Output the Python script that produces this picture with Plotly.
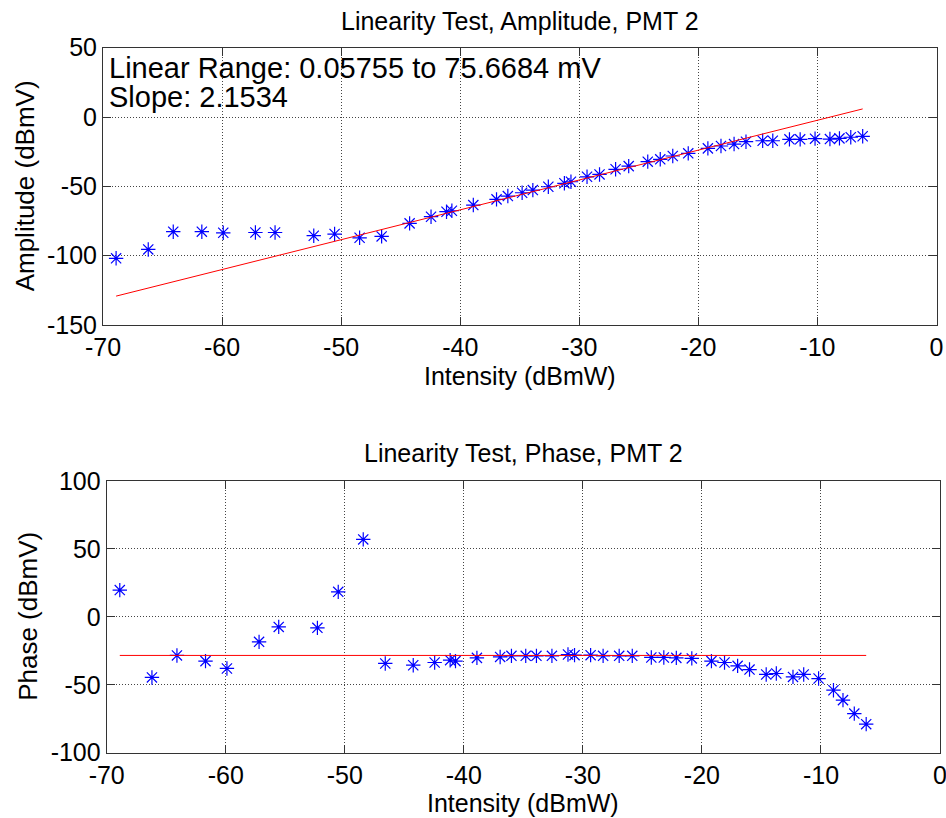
import plotly.graph_objects as go
import numpy as np

W, H = 946, 818

intensity = [-68.9, -66.2, -64.1, -61.7, -59.9, -57.2, -55.55, -52.3, -50.55, -48.45,
             -46.6, -44.25, -42.45, -41.15, -40.7, -38.9, -36.95, -36.0, -34.8, -33.9,
             -32.6, -31.25, -30.7, -29.35, -28.3, -26.95, -25.85, -24.25, -23.2, -22.15,
             -20.85, -19.2, -18.1, -17.0, -16.0, -14.6, -13.75, -12.35, -11.45, -10.2,
             -8.95, -8.15, -7.2, -6.2]

amplitude = [-101.9, -95.5, -82.7, -82.7, -83.5, -83.3, -83.3, -85.6, -84.4, -87.1,
             -86.1, -76.7, -71.9, -68.3, -67.6, -63.5, -59.4, -57.0, -54.6, -52.7,
             -50.3, -47.8, -46.7, -43.1, -41.4, -37.7, -35.4, -32.2, -30.5, -28.1,
             -26.2, -22.6, -20.9, -19.5, -17.8, -17.1, -17.1, -16.1, -16.1, -15.6,
             -15.9, -15.4, -14.6, -13.9]

phase = [19.7, -44.6, -28.4, -32.6, -38.0, -18.4, -7.4, -8.1, 18.4, 57.0,
         -34.3, -35.6, -33.6, -31.9, -32.6, -30.2, -29.5, -28.7, -28.7, -28.7,
         -28.7, -27.7, -28.2, -28.2, -28.7, -28.7, -28.7, -29.9, -29.9, -30.2,
         -30.6, -32.6, -33.6, -36.1, -38.8, -42.4, -41.7, -44.2, -42.4, -45.4,
         -54.0, -61.3, -71.2, -79.0]

amp_fit_slope = 2.1534
amp_fit_intercept = 19.2
phase_fit_level = -28.4

x_ticks = [-70, -60, -50, -40, -30, -20, -10, 0]
x_tick_labels = ["-70", "-60", "-50", "-40", "-30", "-20", "-10", "0"]
amp_ticks = [50, 0, -50, -100, -150]
amp_tick_labels = ["50", "0", "-50", "-100", "-150"]
phase_ticks = [100, 50, 0, -50, -100]
phase_tick_labels = ["100", "50", "0", "-50", "-100"]

fit_x = np.array([min(intensity), max(intensity)])
amp_fit_y = amp_fit_slope * fit_x + amp_fit_intercept
phase_fit_y = np.full_like(fit_x, phase_fit_level)

FONT = "Liberation Sans, Arial, sans-serif"

def px_x(p):
    return p / W

def px_y(p):
    return 1 - p / H

fig = go.Figure()

marker = dict(symbol="asterisk-open", size=12, color="#0000ff",
              line=dict(color="#0000ff", width=1.2))

fig.add_trace(go.Scatter(x=intensity, y=amplitude, mode="markers", marker=marker,
                         xaxis="x", yaxis="y", showlegend=False))
fig.add_trace(go.Scatter(x=fit_x, y=amp_fit_y, mode="lines",
                         line=dict(color="#ff0000", width=1),
                         xaxis="x", yaxis="y", showlegend=False))
fig.add_trace(go.Scatter(x=intensity, y=phase, mode="markers", marker=marker,
                         xaxis="x2", yaxis="y2", showlegend=False))
fig.add_trace(go.Scatter(x=fit_x, y=phase_fit_y, mode="lines",
                         line=dict(color="#ff0000", width=1),
                         xaxis="x2", yaxis="y2", showlegend=False))

axis_common = dict(
    showline=True, linecolor="#333333", linewidth=1, mirror="ticks",
    ticks="inside", ticklen=8, tickwidth=1, tickcolor="#333333",
    showgrid=True, gridcolor="#444444", gridwidth=1, griddash="1px,2px",
    zeroline=False, automargin=False, ticklabeloverflow="allow",
    tickfont=dict(family=FONT, size=25, color="black"),
)

top_x = [px_x(103), px_x(936.5)]
top_y = [px_y(325), px_y(47.7)]
bot_x = [px_x(106.7), px_x(940)]
bot_y = [px_y(752.7), px_y(481)]

fig.update_layout(
    width=W, height=H,
    margin=dict(l=0, r=0, t=0, b=0),
    paper_bgcolor="white", plot_bgcolor="white",
    font=dict(family=FONT, color="black"),
    xaxis=dict(domain=top_x, range=[-70, 0], tickvals=x_ticks, ticktext=x_tick_labels,
               anchor="y", **axis_common),
    yaxis=dict(domain=top_y, range=[-150, 50], tickvals=amp_ticks, ticktext=amp_tick_labels,
               anchor="x", **axis_common),
    xaxis2=dict(domain=bot_x, range=[-70, 0], tickvals=x_ticks, ticktext=x_tick_labels,
                anchor="y2", **axis_common),
    yaxis2=dict(domain=bot_y, range=[-100, 100], tickvals=phase_ticks,
                ticktext=phase_tick_labels, anchor="x2", **axis_common),
)

ann = []
def add_text(text, x, y, size, xanchor="center", yanchor="middle", angle=0):
    ann.append(dict(text=text, x=x, y=y, xref="paper", yref="paper", showarrow=False,
                    xanchor=xanchor, yanchor=yanchor, textangle=angle,
                    font=dict(family=FONT, size=size, color="black")))

add_text("Linearity Test, Amplitude, PMT 2", (top_x[0] + top_x[1]) / 2, px_y(21), 25)
add_text("Linearity Test, Phase, PMT 2", (bot_x[0] + bot_x[1]) / 2, px_y(453), 25)
add_text("Intensity (dBmW)", (top_x[0] + top_x[1]) / 2, px_y(376), 25)
add_text("Intensity (dBmW)", (bot_x[0] + bot_x[1]) / 2, px_y(803), 25)
add_text("Amplitude (dBmV)", px_x(25), (top_y[0] + top_y[1]) / 2, 26, angle=-90)
add_text("Phase (dBmV)", px_x(28), (bot_y[0] + bot_y[1]) / 2, 26, angle=-90)
add_text("Linear Range: 0.05755 to 75.6684 mV", px_x(107), px_y(68), 29, xanchor="left")
add_text("Slope: 2.1534", px_x(107), px_y(97), 29, xanchor="left")

fig.update_layout(annotations=ann)

fig.write_html("out.html")
